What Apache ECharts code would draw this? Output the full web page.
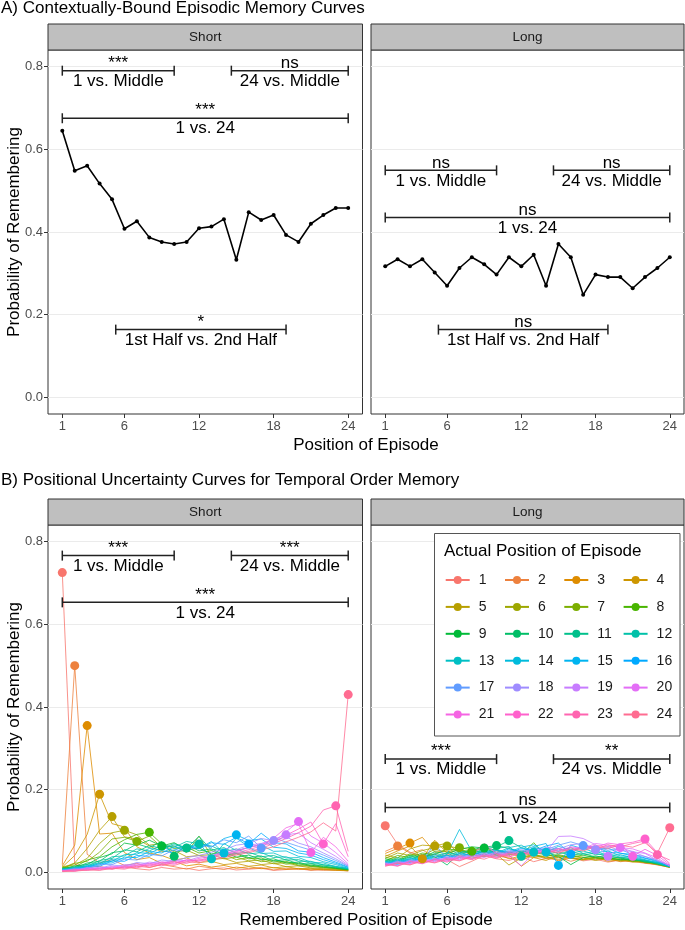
<!DOCTYPE html>
<html><head><meta charset="utf-8">
<script src="https://cdn.jsdelivr.net/npm/echarts@6/dist/echarts.min.js"></script>
<style>html,body{margin:0;padding:0;background:#fff}#c{width:685px;height:930px}</style>
</head><body><div id="c"></div>
<script>
// ---------- DATA ----------
const positions = [1,2,3,4,5,6,7,8,9,10,11,12,13,14,15,16,17,18,19,20,21,22,23,24];
const xTicks = [1,6,12,18,24];
const yTicks = [0,0.2,0.4,0.6,0.8];

// Panel A: contextually-bound episodic memory
const recallShort = [0.645,0.548,0.560,0.517,0.479,0.408,0.426,0.387,0.376,0.371,0.376,0.409,0.413,0.431,0.333,0.448,0.429,0.441,0.393,0.376,0.420,0.441,0.458,0.458];
const recallLong  = [0.317,0.334,0.317,0.334,0.302,0.270,0.313,0.339,0.322,0.297,0.339,0.317,0.345,0.270,0.371,0.339,0.248,0.297,0.291,0.291,0.264,0.291,0.313,0.339];

// Panel B: positional uncertainty (rows = actual position 1..24, columns = remembered position 1..24)
const orderShort = [
 [0.725,0.020,0.011,0.015,0.008,0.013,0.009,0.006,0.012,0.008,0.010,0.005,0.009,0.011,0.006,0.008,0.010,0.005,0.007,0.009,0.005,0.007,0.006,0.004],
 [0.019,0.500,0.044,0.023,0.031,0.017,0.022,0.012,0.019,0.014,0.008,0.015,0.011,0.007,0.013,0.009,0.012,0.006,0.010,0.007,0.008,0.005,0.006,0.004],
 [0.016,0.066,0.355,0.093,0.095,0.048,0.031,0.036,0.022,0.027,0.016,0.020,0.013,0.017,0.010,0.014,0.009,0.012,0.007,0.010,0.006,0.008,0.005,0.004],
 [0.013,0.041,0.092,0.189,0.118,0.110,0.062,0.047,0.041,0.030,0.035,0.024,0.027,0.019,0.022,0.015,0.018,0.011,0.014,0.009,0.010,0.007,0.006,0.005],
 [0.011,0.023,0.058,0.102,0.135,0.086,0.081,0.064,0.050,0.053,0.038,0.041,0.031,0.034,0.024,0.027,0.019,0.022,0.014,0.016,0.011,0.009,0.008,0.005],
 [0.014,0.018,0.034,0.070,0.096,0.102,0.091,0.066,0.070,0.049,0.054,0.041,0.043,0.033,0.037,0.028,0.030,0.021,0.024,0.016,0.015,0.011,0.009,0.006],
 [0.009,0.022,0.027,0.049,0.081,0.085,0.075,0.088,0.061,0.064,0.048,0.088,0.040,0.044,0.031,0.036,0.026,0.029,0.020,0.022,0.014,0.013,0.009,0.006],
 [0.012,0.013,0.030,0.038,0.062,0.079,0.092,0.097,0.069,0.058,0.061,0.047,0.053,0.039,0.045,0.033,0.035,0.025,0.027,0.018,0.018,0.012,0.011,0.007],
 [0.008,0.016,0.019,0.036,0.045,0.071,0.066,0.078,0.064,0.072,0.055,0.059,0.045,0.049,0.037,0.042,0.031,0.033,0.023,0.025,0.016,0.016,0.010,0.007],
 [0.010,0.011,0.023,0.027,0.048,0.052,0.069,0.060,0.075,0.039,0.068,0.052,0.057,0.043,0.047,0.036,0.040,0.028,0.031,0.021,0.021,0.014,0.012,0.008],
 [0.007,0.014,0.015,0.029,0.034,0.055,0.050,0.065,0.058,0.070,0.059,0.087,0.054,0.060,0.046,0.049,0.038,0.041,0.030,0.031,0.022,0.019,0.013,0.008],
 [0.009,0.009,0.020,0.021,0.038,0.040,0.057,0.052,0.066,0.061,0.075,0.069,0.064,0.050,0.057,0.045,0.048,0.036,0.038,0.027,0.027,0.018,0.015,0.009],
 [0.006,0.012,0.013,0.025,0.027,0.043,0.044,0.058,0.055,0.067,0.059,0.072,0.033,0.070,0.053,0.060,0.046,0.047,0.035,0.036,0.025,0.023,0.014,0.010],
 [0.008,0.008,0.017,0.018,0.032,0.033,0.048,0.046,0.060,0.053,0.068,0.058,0.075,0.047,0.083,0.062,0.066,0.051,0.052,0.039,0.036,0.026,0.019,0.010],
 [0.005,0.011,0.011,0.022,0.023,0.037,0.036,0.051,0.047,0.062,0.055,0.071,0.061,0.082,0.091,0.077,0.081,0.061,0.058,0.047,0.042,0.031,0.022,0.012],
 [0.007,0.006,0.015,0.015,0.028,0.027,0.041,0.039,0.053,0.047,0.063,0.057,0.072,0.068,0.085,0.069,0.095,0.072,0.069,0.052,0.049,0.036,0.025,0.013],
 [0.004,0.010,0.009,0.019,0.019,0.032,0.030,0.044,0.040,0.055,0.051,0.066,0.062,0.079,0.072,0.088,0.059,0.085,0.073,0.063,0.054,0.042,0.029,0.015],
 [0.006,0.005,0.012,0.010,0.018,0.015,0.024,0.021,0.030,0.027,0.036,0.041,0.049,0.055,0.066,0.070,0.082,0.077,0.086,0.071,0.062,0.047,0.033,0.016],
 [0.004,0.008,0.007,0.013,0.011,0.019,0.017,0.025,0.022,0.031,0.028,0.037,0.041,0.050,0.055,0.066,0.070,0.080,0.091,0.095,0.072,0.056,0.039,0.018],
 [0.005,0.004,0.011,0.008,0.015,0.012,0.021,0.017,0.026,0.022,0.031,0.028,0.040,0.045,0.052,0.060,0.068,0.074,0.098,0.123,0.088,0.071,0.048,0.021],
 [0.003,0.007,0.006,0.011,0.009,0.016,0.013,0.022,0.019,0.028,0.025,0.034,0.038,0.047,0.050,0.062,0.066,0.083,0.108,0.118,0.048,0.085,0.062,0.027],
 [0.004,0.003,0.009,0.006,0.013,0.010,0.018,0.015,0.024,0.020,0.030,0.027,0.035,0.042,0.048,0.055,0.064,0.072,0.090,0.105,0.122,0.069,0.118,0.038],
 [0.003,0.006,0.005,0.009,0.008,0.014,0.011,0.019,0.016,0.025,0.022,0.031,0.029,0.038,0.045,0.051,0.058,0.070,0.082,0.096,0.112,0.151,0.161,0.051],
 [0.002,0.003,0.006,0.005,0.010,0.008,0.015,0.012,0.020,0.017,0.026,0.023,0.032,0.036,0.042,0.048,0.055,0.062,0.074,0.085,0.098,0.120,0.100,0.430]
];
const orderLong = [
 [0.113,0.068,0.049,0.038,0.044,0.031,0.014,0.027,0.041,0.033,0.029,0.038,0.026,0.034,0.030,0.037,0.028,0.032,0.025,0.030,0.027,0.022,0.019,0.012],
 [0.051,0.064,0.047,0.055,0.036,0.043,0.039,0.048,0.068,0.040,0.035,0.029,0.042,0.033,0.037,0.027,0.035,0.030,0.034,0.026,0.029,0.024,0.018,0.014],
 [0.046,0.058,0.071,0.085,0.049,0.052,0.040,0.034,0.045,0.037,0.042,0.015,0.036,0.040,0.028,0.035,0.031,0.037,0.027,0.030,0.025,0.028,0.020,0.013],
 [0.039,0.052,0.064,0.033,0.078,0.047,0.055,0.043,0.038,0.046,0.033,0.040,0.036,0.029,0.041,0.034,0.030,0.036,0.032,0.027,0.031,0.023,0.021,0.015],
 [0.042,0.035,0.057,0.066,0.064,0.071,0.046,0.052,0.039,0.044,0.018,0.035,0.041,0.037,0.032,0.039,0.035,0.029,0.034,0.031,0.026,0.024,0.019,0.012],
 [0.034,0.047,0.041,0.053,0.060,0.064,0.058,0.044,0.050,0.041,0.046,0.038,0.043,0.035,0.040,0.036,0.031,0.037,0.030,0.033,0.028,0.025,0.022,0.014],
 [0.037,0.030,0.045,0.040,0.056,0.049,0.060,0.055,0.047,0.052,0.043,0.049,0.039,0.044,0.036,0.041,0.037,0.033,0.038,0.029,0.031,0.026,0.020,0.016],
 [0.028,0.041,0.036,0.047,0.043,0.057,0.053,0.051,0.059,0.046,0.050,0.042,0.072,0.040,0.043,0.037,0.042,0.035,0.033,0.036,0.027,0.029,0.021,0.013],
 [0.033,0.027,0.042,0.036,0.050,0.045,0.056,0.062,0.059,0.054,0.047,0.052,0.044,0.048,0.039,0.019,0.036,0.040,0.034,0.031,0.033,0.025,0.023,0.015],
 [0.025,0.036,0.031,0.044,0.038,0.018,0.047,0.055,0.061,0.065,0.058,0.049,0.054,0.043,0.050,0.041,0.046,0.037,0.041,0.034,0.030,0.028,0.020,0.014],
 [0.030,0.024,0.039,0.033,0.046,0.040,0.052,0.046,0.057,0.062,0.077,0.060,0.051,0.056,0.045,0.051,0.042,0.047,0.038,0.036,0.033,0.026,0.024,0.016],
 [0.023,0.033,0.028,0.041,0.035,0.048,0.042,0.053,0.049,0.058,0.063,0.039,0.061,0.053,0.058,0.047,0.052,0.043,0.045,0.037,0.034,0.030,0.022,0.013],
 [0.027,0.022,0.036,0.030,0.043,0.036,0.049,0.040,0.054,0.047,0.060,0.066,0.049,0.058,0.052,0.060,0.046,0.051,0.041,0.043,0.035,0.029,0.025,0.017],
 [0.021,0.031,0.026,0.038,0.032,0.044,0.104,0.051,0.046,0.055,0.049,0.061,0.067,0.049,0.063,0.055,0.058,0.048,0.052,0.040,0.038,0.031,0.023,0.015],
 [0.026,0.020,0.034,0.028,0.040,0.034,0.046,0.039,0.052,0.044,0.057,0.051,0.063,0.070,0.017,0.066,0.057,0.062,0.049,0.047,0.040,0.034,0.026,0.014],
 [0.019,0.029,0.024,0.035,0.030,0.041,0.036,0.048,0.042,0.053,0.047,0.058,0.053,0.064,0.071,0.044,0.068,0.055,0.059,0.046,0.044,0.035,0.028,0.016],
 [0.024,0.019,0.031,0.026,0.070,0.031,0.043,0.037,0.049,0.041,0.054,0.048,0.059,0.055,0.066,0.074,0.065,0.061,0.054,0.056,0.043,0.039,0.027,0.018],
 [0.018,0.027,0.022,0.033,0.028,0.038,0.033,0.045,0.039,0.050,0.044,0.055,0.049,0.061,0.057,0.067,0.070,0.055,0.063,0.053,0.051,0.038,0.031,0.015],
 [0.022,0.017,0.029,0.024,0.034,0.029,0.040,0.034,0.046,0.038,0.051,0.045,0.056,0.050,0.087,0.088,0.082,0.067,0.039,0.061,0.050,0.046,0.029,0.017],
 [0.017,0.025,0.021,0.031,0.026,0.036,0.031,0.042,0.036,0.047,0.041,0.016,0.046,0.057,0.052,0.062,0.058,0.070,0.066,0.060,0.057,0.047,0.035,0.016],
 [0.021,0.016,0.027,0.022,0.032,0.027,0.038,0.032,0.043,0.036,0.048,0.042,0.053,0.047,0.058,0.053,0.064,0.060,0.071,0.067,0.039,0.056,0.041,0.019],
 [0.016,0.023,0.019,0.029,0.024,0.034,0.029,0.040,0.070,0.045,0.039,0.049,0.044,0.054,0.049,0.060,0.055,0.066,0.061,0.069,0.073,0.081,0.048,0.022],
 [0.020,0.015,0.026,0.021,0.031,0.025,0.036,0.031,0.041,0.034,0.046,0.040,0.051,0.045,0.056,0.050,0.061,0.057,0.067,0.062,0.070,0.076,0.043,0.030],
 [0.015,0.022,0.018,0.028,0.023,0.032,0.028,0.038,0.032,0.043,0.037,0.047,0.042,0.052,0.047,0.057,0.052,0.062,0.058,0.066,0.061,0.072,0.047,0.108]
];

// significance brackets (data coordinates)
const bracketsAShort = [
 {x1:1, x2:10, y:0.79, sig:'***', label:'1 vs. Middle'},
 {x1:14.6, x2:24, y:0.79, sig:'ns', label:'24 vs. Middle'},
 {x1:1, x2:24, y:0.675, sig:'***', label:'1 vs. 24'},
 {x1:5.3, x2:19, y:0.164, sig:'*', label:'1st Half vs. 2nd Half'}
];
const bracketsALong = [
 {x1:1, x2:10, y:0.549, sig:'ns', label:'1 vs. Middle'},
 {x1:14.6, x2:24, y:0.549, sig:'ns', label:'24 vs. Middle'},
 {x1:1, x2:24, y:0.435, sig:'ns', label:'1 vs. 24'},
 {x1:5.3, x2:19, y:0.164, sig:'ns', label:'1st Half vs. 2nd Half'}
];
const bracketsBShort = [
 {x1:1, x2:10, y:0.766, sig:'***', label:'1 vs. Middle'},
 {x1:14.6, x2:24, y:0.766, sig:'***', label:'24 vs. Middle'},
 {x1:1, x2:24, y:0.653, sig:'***', label:'1 vs. 24'}
];
const bracketsBLong = [
 {x1:1, x2:10, y:0.274, sig:'***', label:'1 vs. Middle'},
 {x1:14.6, x2:24, y:0.274, sig:'**', label:'24 vs. Middle'},
 {x1:1, x2:24, y:0.157, sig:'ns', label:'1 vs. 24'}
];
const panelNames = ['Short','Long'];
const legendTitle = 'Actual Position of Episode';

// ---------- STYLE / LAYOUT ----------
const FONT = '"Liberation Sans", Arial, Helvetica, sans-serif';
function hcl(h, c, l) {
  const hr = h * Math.PI / 180;
  const U = c * Math.cos(hr), V = c * Math.sin(hr);
  const Y = l > 8 ? Math.pow((l + 16) / 116, 3) : l / 903.3;
  const Xn = 0.95047, Yn = 1, Zn = 1.08883;
  const den = Xn + 15 * Yn + 3 * Zn;
  const un = 4 * Xn / den, vn = 9 * Yn / den;
  const u = U / (13 * l) + un, v = V / (13 * l) + vn;
  const X = Y * 9 * u / (4 * v), Z = Y * (12 - 3 * u - 20 * v) / (4 * v);
  const r = 3.2406 * X - 1.5372 * Y - 0.4986 * Z;
  const g = -0.9689 * X + 1.8758 * Y + 0.0415 * Z;
  const b = 0.0557 * X - 0.2040 * Y + 1.0570 * Z;
  const gm = t => { t = t <= 0.0031308 ? 12.92 * t : 1.055 * Math.pow(t, 1 / 2.4) - 0.055; return Math.round(Math.max(0, Math.min(1, t)) * 255); };
  return 'rgb(' + gm(r) + ',' + gm(g) + ',' + gm(b) + ')';
}
const hues = positions.map((p, i) => hcl(15 + 15 * i, 100, 65));

const grids = [
  {left: 48, top: 50, width: 314.5, height: 364},
  {left: 371, top: 50, width: 313, height: 364},
  {left: 48, top: 525, width: 314.5, height: 364},
  {left: 371, top: 525, width: 313, height: 364}
];

const xAxes = grids.map((g, i) => ({
  type: 'value', gridIndex: i, min: -0.15, max: 25.15,
  axisLine: {show: false, onZero: false},
  axisTick: {show: true, customValues: xTicks, length: 4, lineStyle: {color: '#333', width: 1}},
  axisLabel: {customValues: xTicks, fontSize: 13, color: '#4d4d4d', fontFamily: FONT, margin: 6},
  splitLine: {show: false}
}));
const yAxes = grids.map((g, i) => {
  const left = (i % 2 === 0);
  return {
    type: 'value', gridIndex: i, min: -0.04, max: 0.84,
    axisLine: {show: false, onZero: false},
    axisTick: {show: left, customValues: yTicks, length: 4, lineStyle: {color: '#333', width: 1}},
    axisLabel: {show: left, customValues: yTicks, fontSize: 13, color: '#4d4d4d', fontFamily: FONT, margin: 5,
      formatter: v => Number(v).toFixed(1)},
    splitLine: {show: true, lineStyle: {color: '#ebebeb', width: 1}}
  };
});

function bracketSeries(list, gi) {
  return {
    type: 'custom', xAxisIndex: gi, yAxisIndex: gi, silent: true, z: 6, clip: false,
    data: list.map(b => [b.x1, b.x2, b.y]),
    encode: {x: [0, 1], y: 2},
    renderItem: (params, api) => {
      const b = list[params.dataIndex];
      const p1 = api.coord([api.value(0), api.value(2)]);
      const p2 = api.coord([api.value(1), api.value(2)]);
      const st = {stroke: '#222', lineWidth: 1.5};
      const cx = (p1[0] + p2[0]) / 2;
      return {type: 'group', children: [
        {type: 'line', shape: {x1: p1[0], y1: p1[1], x2: p2[0], y2: p2[1]}, style: st},
        {type: 'line', shape: {x1: p1[0], y1: p1[1] - 5, x2: p1[0], y2: p1[1] + 5}, style: st},
        {type: 'line', shape: {x1: p2[0], y1: p2[1] - 5, x2: p2[0], y2: p2[1] + 5}, style: st},
        {type: 'text', x: cx, y: p1[1] + 1, style: {text: b.sig, font: '17px ' + FONT, fill: '#000',
          align: 'center', verticalAlign: 'bottom', textAlign: 'center', textVerticalAlign: 'bottom'}},
        {type: 'text', x: cx, y: p1[1] + 2, style: {text: b.label, font: '17px ' + FONT, fill: '#000',
          align: 'center', verticalAlign: 'top', textAlign: 'center', textVerticalAlign: 'top'}}
      ]};
    }
  };
}

const series = [];
[recallShort, recallLong].forEach((vals, gi) => {
  series.push({
    type: 'line', name: 'recall-' + panelNames[gi], xAxisIndex: gi, yAxisIndex: gi, silent: true,
    data: positions.map((p, i) => [p, vals[i]]),
    symbol: 'circle', symbolSize: 4, showAllSymbol: true,
    lineStyle: {color: '#000', width: 1.6}, itemStyle: {color: '#000'}, z: 5
  });
});
[orderShort, orderLong].forEach((mat, k) => {
  const gi = 2 + k;
  mat.forEach((row, i) => {
    series.push({
      type: 'line', name: String(positions[i]), xAxisIndex: gi, yAxisIndex: gi, silent: true,
      data: positions.map((p, j) => [p, row[j]]),
      symbol: 'circle', symbolSize: 9, showSymbol: false,
      lineStyle: {color: hues[i], width: 0.8}, itemStyle: {color: hues[i]}, z: 2
    });
  });
});
[orderShort, orderLong].forEach((mat, k) => {
  const gi = 2 + k;
  mat.forEach((row, i) => {
    series.push({
      type: 'scatter', name: String(positions[i]), xAxisIndex: gi, yAxisIndex: gi, silent: true,
      data: [[positions[i], row[i]]], symbol: 'circle', symbolSize: 9,
      itemStyle: {color: hues[i], opacity: 1}, z: 3
    });
  });
});
series.push(bracketSeries(bracketsAShort, 0));
series.push(bracketSeries(bracketsALong, 1));
series.push(bracketSeries(bracketsBShort, 2));
series.push(bracketSeries(bracketsBLong, 3));

const legends = [0, 1, 2, 3].map(c => ({
  orient: 'vertical', left: 444.7 + c * 59.3, top: 573, padding: 0,
  itemWidth: 24, itemHeight: 10, itemGap: 12.9, selectedMode: false, z: 20,
  data: [0, 1, 2, 3, 4, 5].map(r => String(positions[r * 4 + c])),
  textStyle: {fontSize: 14, color: '#1a1a1a', fontFamily: FONT, lineHeight: 14, padding: [0, 0, 0, 4]}
}));

const graphics = [
  {type: 'text', left: 1, top: 0, style: {text: 'A) Contextually-Bound Episodic Memory Curves', font: '17px ' + FONT, fill: '#000'}},
  {type: 'text', left: 1, top: 472, style: {text: 'B) Positional Uncertainty Curves for Temporal Order Memory', font: '17px ' + FONT, fill: '#000'}},
  {type: 'text', x: 366, y: 445, style: {text: 'Position of Episode', font: '17px ' + FONT, fill: '#000', align: 'center', verticalAlign: 'middle'}},
  {type: 'text', x: 366, y: 920, style: {text: 'Remembered Position of Episode', font: '17px ' + FONT, fill: '#000', align: 'center', verticalAlign: 'middle'}},
  {type: 'text', x: 14, y: 232, rotation: Math.PI / 2, style: {text: 'Probability of Remembering', font: '17px ' + FONT, fill: '#000', align: 'center', verticalAlign: 'middle'}},
  {type: 'text', x: 14, y: 707, rotation: Math.PI / 2, style: {text: 'Probability of Remembering', font: '17px ' + FONT, fill: '#000', align: 'center', verticalAlign: 'middle'}}
];
grids.forEach((g, i) => {
  const sTop = i < 2 ? 24 : 499;
  graphics.push({type: 'rect', shape: {x: g.left, y: sTop, width: g.width, height: g.top - sTop},
    style: {fill: '#bfbfbf', stroke: '#333', lineWidth: 1}, z: 1});
  graphics.push({type: 'text', x: g.left + g.width / 2, y: (sTop + g.top) / 2 + 0.5, z: 2,
    style: {text: panelNames[i % 2], font: '13.5px ' + FONT, fill: '#1a1a1a', align: 'center', verticalAlign: 'middle'}});
});
graphics.push({type: 'rect', shape: {x: 434.5, y: 533.5, width: 245.5, height: 202.5},
  style: {fill: '#fff', stroke: '#555', lineWidth: 1}, z: 10});
graphics.push({type: 'text', x: 444, y: 551, z: 21,
  style: {text: legendTitle, font: '17px ' + FONT, fill: '#000', verticalAlign: 'middle'}});

const chart = echarts.init(document.getElementById('c'), null, {renderer: 'canvas'});
chart.setOption({
  animation: false,
  backgroundColor: '#fff',
  textStyle: {fontFamily: FONT},
  grid: grids.map(g => Object.assign({show: true, borderColor: '#333', borderWidth: 1, backgroundColor: '#fff'}, g)),
  xAxis: xAxes,
  yAxis: yAxes,
  legend: legends,
  graphic: graphics,
  series: series
});
</script></body></html>
